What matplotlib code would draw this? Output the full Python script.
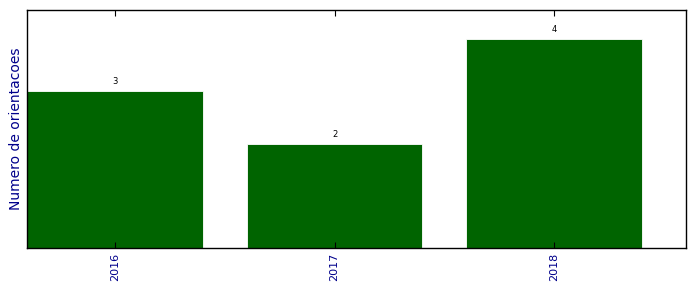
import matplotlib
matplotlib.use("Agg")
import matplotlib.pyplot as plt

# orientacoes por ano
anos = ["2016", "2017", "2018"]
orientacoes = [3, 2, 4]

fig = plt.figure(figsize=(6.96, 2.92), dpi=100)
ax = fig.add_axes([0.039, 0.151, 0.9466, 0.815])

x = list(range(len(anos)))
bars = ax.bar(x, orientacoes, width=0.8, color="#006400", edgecolor="white", linewidth=0.6)

for rect, val in zip(bars, orientacoes):
    ax.annotate(str(val), (rect.get_x() + rect.get_width() / 2, rect.get_height()),
                xytext=(0, 3.5), textcoords="offset points",
                ha="center", va="bottom", fontsize=6)

ax.set_xlim(-0.4, 2.6)
ax.set_ylim(0, 4.56)
ax.set_xticks(x)
ax.set_xticklabels(anos, rotation=90, color="darkblue", fontsize=8)
ax.set_yticks([])
ax.tick_params(axis="x", direction="in", top=True, length=4, width=0.8)
ax.set_ylabel("Numero de orientacoes", color="darkblue", fontsize=10, labelpad=3)
for s in ax.spines.values():
    s.set_linewidth(1.0)

fig.savefig("out.png", dpi=100)
